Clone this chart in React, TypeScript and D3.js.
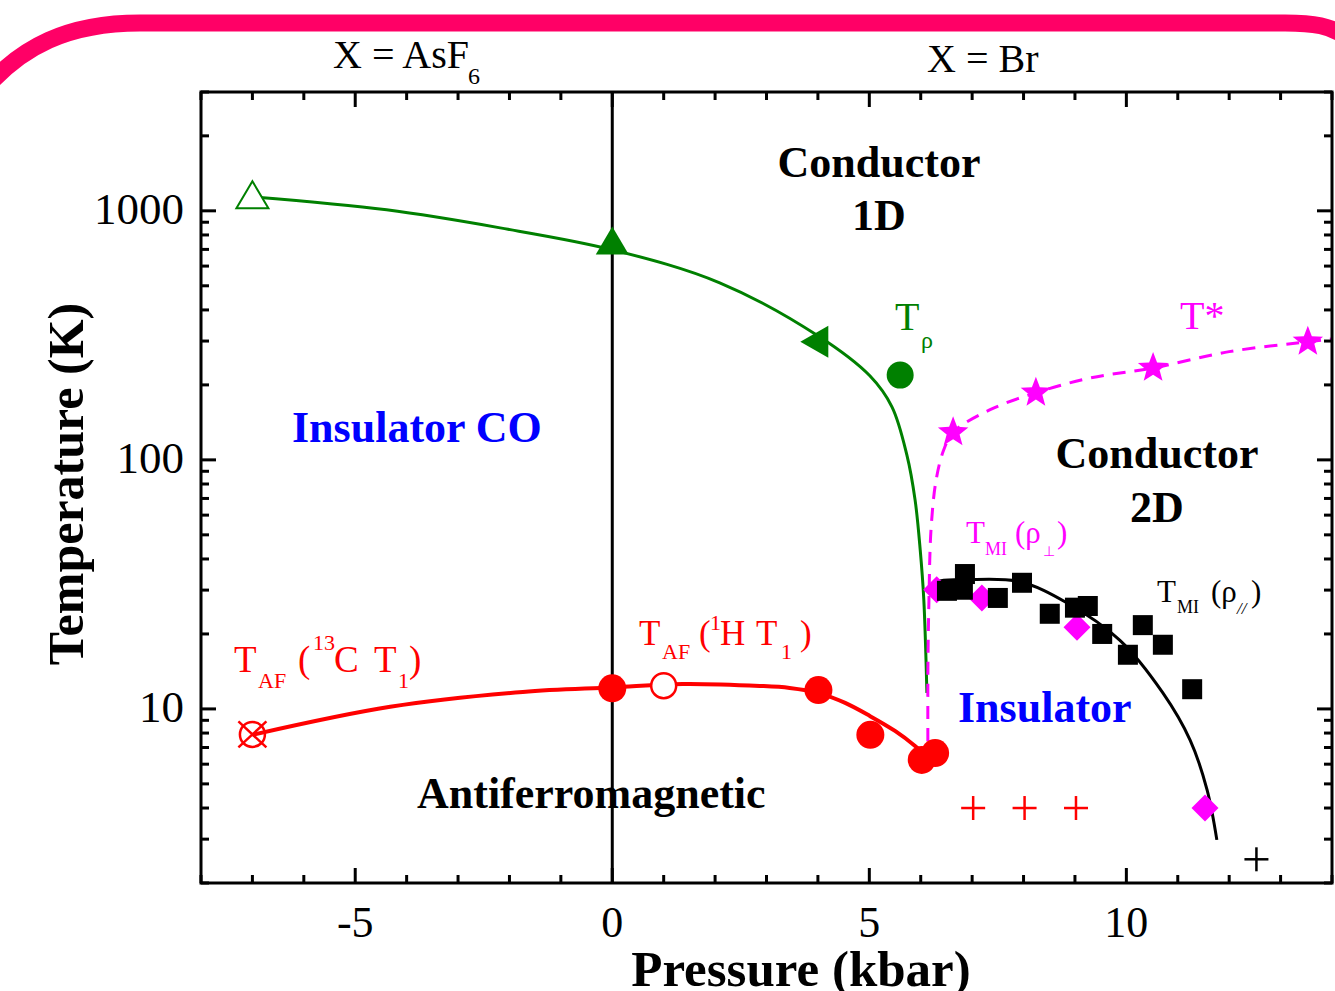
import React from 'react';
import * as d3 from 'd3';

// ---------- axes ----------
const xDomain: [number, number] = [-8, 14];
const yDomain: [number, number] = [2, 3000];
const xMajorTicks = [-5, 0, 5, 10];
const xTickLabels = ['-5', '0', '5', '10'];
const yMajorTicks = [10, 100, 1000];
const yTickLabels = ['10', '100', '1000'];
const xTitle = 'Pressure (kbar)';
const yTitle = 'Temperature (K)';

// ---------- curves ----------
const greenCurveP = [-7, -4.39, -2.18, 0.01, 2.09, 4.0, 5.01, 5.44, 5.73, 5.89, 5.99, 6.06, 6.12];
const greenCurveT = [1138, 1009, 854, 697, 514, 315, 217.5, 163.3, 104.7, 69.1, 43.5, 27.4, 11.6];

const redCurveP = [-7, -4.32, -1.74, 0, 1.37, 2.87, 3.45, 4.0, 4.53, 5.01, 5.5, 5.89, 6.14];
const redCurveT = [7.87, 10.2, 11.7, 12.2, 12.6, 12.37, 12.14, 11.6, 10.57, 9.37, 8.16, 7.1, 6.36];

const blackCurveP = [6.18, 6.33, 6.9, 7.93, 8.84, 9.87, 10.71, 11.24, 11.57, 11.76];
const blackCurveT = [29.5, 32.4, 33.0, 32.4, 26.7, 18.9, 11.6, 7.5, 4.73, 2.98];

const magentaCurveP = [6.14, 6.14, 6.16, 6.2, 6.3, 6.45, 6.63, 7.35, 8.24, 9.29, 10.52, 12.0, 13.53, 14];
const magentaCurveT = [6.07, 15, 27.4, 52.4, 83.2, 110, 129, 159, 186, 213, 234, 272, 298, 306];

// ---------- markers ----------
const greenOpenTriP = [-7];
const greenOpenTriT = [1160];
const greenUpTriP = [0];
const greenUpTriT = [760];
const greenLeftTriP = [3.93];
const greenLeftTriT = [298];
const greenCircleP = [5.6];
const greenCircleT = [219];

const redCrossCircleP = [-7];
const redCrossCircleT = [7.9];
const redFilledP = [0, 4.01, 5.02, 6.02, 6.28];
const redFilledT = [12.1, 11.9, 7.87, 6.24, 6.65];
const redOpenP = [1.0];
const redOpenT = [12.4];
const redPlusP = [7.02, 8.02, 9.02];
const redPlusT = [4.0, 4.0, 4.0];

const starP = [6.63, 8.24, 10.52, 13.53];
const starT = [129, 186, 234, 298];

const diamondP = [6.31, 7.19, 9.04, 11.53];
const diamondT = [30.1, 27.9, 21.3, 4.0];

const squareP = [6.51, 6.82, 6.86, 7.5, 7.97, 8.51, 9.0, 9.25, 9.53, 10.03, 10.32, 10.71, 11.28];
const squareT = [29.8, 30.1, 34.8, 27.9, 32.1, 24.1, 25.5, 25.9, 20.0, 16.5, 21.7, 18.1, 12.0];

const blackPlusP = [12.53];
const blackPlusT = [2.49];

const SERIF = "'Liberation Serif', 'Times New Roman', Times, serif";
const GREEN = '#008000';
const RED = '#ff0000';
const MAGENTA = '#ff00ff';
const BLUE = '#0000ff';

const W = 1335;
const H = 991;
const L = 201, R = 1332, T = 92, B = 883;

function starPath(cx: number, cy: number, ro: number, ri: number) {
  const pts: string[] = [];
  for (let i = 0; i < 10; i++) {
    const r = i % 2 === 0 ? ro : ri;
    const a = -Math.PI / 2 + (i * Math.PI) / 5;
    pts.push(`${cx + r * Math.cos(a)},${cy + r * Math.sin(a)}`);
  }
  return 'M' + pts.join('L') + 'Z';
}

export default function App() {
  const x = d3.scaleLinear().domain(xDomain).range([L, R]);
  const y = d3.scaleLog().domain(yDomain).range([B, T]);

  const line = d3
    .line<[number, number]>()
    .x((d) => x(d[0]))
    .y((d) => y(d[1]))
    .curve(d3.curveCatmullRom.alpha(0.5));

  const zip = (a: number[], b: number[]) => a.map((v, i) => [v, b[i]] as [number, number]);

  const xMinor = d3.range(-8, 15, 1).filter((v) => !xMajorTicks.includes(v));
  const yMinor = y.ticks().filter((v) => !yMajorTicks.includes(v));

  const tickW = 3;
  const majLen = 15;
  const minLen = 8;

  return (
    <div style={{ position: 'fixed', left: 0, top: 0, width: W, height: H, background: '#fff' }}>
      <svg width={W} height={H} style={{ display: 'block' }} fontFamily={SERIF}>
        <rect x={0} y={0} width={W} height={H} fill="#fff" />
        {/* decorative band */}
        <path
          d="M -20 95 C 20 45, 70 23, 140 23 L 1285 23 C 1315 23, 1330 26, 1345 36"
          fill="none"
          stroke="#ff0066"
          strokeWidth={17}
        />

        {/* header labels */}
        <text x={333} y={68} fontSize={40}>X = AsF</text>
        <text x={468} y={84} fontSize={24}>6</text>
        <text x={927} y={72} fontSize={40}>X = Br</text>

        {/* x = 0 vertical line */}
        <line x1={x(0)} x2={x(0)} y1={T} y2={B} stroke="#000" strokeWidth={3} />

        {/* curves */}
        <path d={line(zip(greenCurveP, greenCurveT)) || ''} fill="none" stroke={GREEN} strokeWidth={3} />
        <path d={line(zip(redCurveP, redCurveT)) || ''} fill="none" stroke={RED} strokeWidth={4} />
        <path d={line(zip(blackCurveP, blackCurveT)) || ''} fill="none" stroke="#000" strokeWidth={3} />
        <path
          d={line(zip(magentaCurveP, magentaCurveT)) || ''}
          fill="none"
          stroke={MAGENTA}
          strokeWidth={3}
          strokeDasharray="13,9"
        />

        {/* green markers */}
        {zip(greenOpenTriP, greenOpenTriT).map(([p, t], i) => {
          const cx = x(p), cy = y(t);
          return (
            <path key={'got' + i} d={`M${cx},${cy - 13.5}L${cx + 16},${cy + 13.5}L${cx - 16},${cy + 13.5}Z`}
              fill="#fff" stroke={GREEN} strokeWidth={2} />
          );
        })}
        {zip(greenUpTriP, greenUpTriT).map(([p, t], i) => {
          const cx = x(p), cy = y(t);
          return (
            <path key={'gut' + i} d={`M${cx},${cy - 14}L${cx + 16.5},${cy + 14}L${cx - 16.5},${cy + 14}Z`} fill={GREEN} />
          );
        })}
        {zip(greenLeftTriP, greenLeftTriT).map(([p, t], i) => {
          const cx = x(p), cy = y(t);
          return (
            <path key={'glt' + i} d={`M${cx - 14},${cy}L${cx + 14},${cy - 16}L${cx + 14},${cy + 16}Z`} fill={GREEN} />
          );
        })}
        {zip(greenCircleP, greenCircleT).map(([p, t], i) => (
          <circle key={'gc' + i} cx={x(p)} cy={y(t)} r={13.5} fill={GREEN} />
        ))}

        {/* red markers */}
        {zip(redCrossCircleP, redCrossCircleT).map(([p, t], i) => {
          const cx = x(p), cy = y(t);
          return (
            <g key={'rcc' + i} stroke={RED} strokeWidth={2.5} fill="none">
              <circle cx={cx} cy={cy} r={12.5} />
              <line x1={cx - 14} y1={cy - 13} x2={cx + 14} y2={cy + 13} />
              <line x1={cx - 14} y1={cy + 13} x2={cx + 14} y2={cy - 13} />
            </g>
          );
        })}
        {zip(redOpenP, redOpenT).map(([p, t], i) => (
          <circle key={'ro' + i} cx={x(p)} cy={y(t)} r={12.5} fill="#fff" stroke={RED} strokeWidth={2.5} />
        ))}
        {zip(redFilledP, redFilledT).map(([p, t], i) => (
          <circle key={'rf' + i} cx={x(p)} cy={y(t)} r={14} fill={RED} />
        ))}
        {zip(redPlusP, redPlusT).map(([p, t], i) => {
          const cx = x(p), cy = y(t);
          return (
            <g key={'rp' + i} stroke={RED} strokeWidth={2.5}>
              <line x1={cx - 12} x2={cx + 12} y1={cy} y2={cy} />
              <line x1={cx} x2={cx} y1={cy - 12} y2={cy + 12} />
            </g>
          );
        })}

        {/* magenta markers */}
        {zip(starP, starT).map(([p, t], i) => (
          <path key={'st' + i} d={starPath(x(p), y(t), 16, 6.8)} fill={MAGENTA} />
        ))}
        {zip(diamondP, diamondT).map(([p, t], i) => {
          const cx = x(p), cy = y(t);
          return (
            <path key={'dm' + i} d={`M${cx},${cy - 13.5}L${cx + 13.5},${cy}L${cx},${cy + 13.5}L${cx - 13.5},${cy}Z`} fill={MAGENTA} />
          );
        })}

        {/* black markers */}
        {zip(squareP, squareT).map(([p, t], i) => (
          <rect key={'sq' + i} x={x(p) - 10} y={y(t) - 10} width={20} height={20} fill="#000" />
        ))}
        {zip(blackPlusP, blackPlusT).map(([p, t], i) => {
          const cx = x(p), cy = y(t);
          return (
            <g key={'bp' + i} stroke="#000" strokeWidth={2.5}>
              <line x1={cx - 12} x2={cx + 12} y1={cy} y2={cy} />
              <line x1={cx} x2={cx} y1={cy - 12} y2={cy + 12} />
            </g>
          );
        })}

        {/* region labels */}
        <g fontWeight="bold" fontSize={44}>
          <text x={879} y={177} textAnchor="middle">Conductor</text>
          <text x={879} y={230} textAnchor="middle">1D</text>
          <text x={1157} y={468} textAnchor="middle">Conductor</text>
          <text x={1157} y={522} textAnchor="middle">2D</text>
          <text x={292} y={442} fill={BLUE}>Insulator CO</text>
          <text x={958} y={722} fill={BLUE}>Insulator</text>
          <text x={417} y={808}>Antiferromagnetic</text>
        </g>

        {/* series labels */}
        <g fill={GREEN}>
          <text x={895} y={330} fontSize={40}>T</text>
          <text x={921} y={348} fontSize={24}>ρ</text>
        </g>
        <text x={1180} y={329} fontSize={40} fill={MAGENTA}>T*</text>

        <g fill={MAGENTA}>
          <text x={966} y={543} fontSize={31}>T</text>
          <text x={985} y={555} fontSize={18}>MI</text>
          <text x={1015} y={543} fontSize={31}>(ρ</text>
          <text x={1043} y={556} fontSize={14}>⊥</text>
          <text x={1057} y={543} fontSize={31}>)</text>
        </g>
        <g fill="#000">
          <text x={1157} y={602} fontSize={31}>T</text>
          <text x={1177} y={613} fontSize={18}>MI</text>
          <text x={1211} y={602} fontSize={31}>(ρ</text>
          <text x={1237} y={614} fontSize={17} fontStyle="italic">//</text>
          <text x={1251} y={602} fontSize={31}>)</text>
        </g>

        <g fill={RED}>
          <text x={234} y={672} fontSize={37}>T</text>
          <text x={258} y={688} fontSize={22}>AF</text>
          <text x={298} y={672} fontSize={37}>(</text>
          <text x={313} y={650} fontSize={22}>13</text>
          <text x={334} y={672} fontSize={37}>C</text>
          <text x={374} y={672} fontSize={37}>T</text>
          <text x={398} y={688} fontSize={22}>1</text>
          <text x={409} y={672} fontSize={37}>)</text>

          <text x={639} y={645} fontSize={35}>T</text>
          <text x={662} y={659} fontSize={22}>AF</text>
          <text x={699} y={645} fontSize={35}>(</text>
          <text x={710} y={630} fontSize={22}>1</text>
          <text x={720} y={645} fontSize={35}>H</text>
          <text x={756} y={645} fontSize={35}>T</text>
          <text x={781} y={659} fontSize={22}>1</text>
          <text x={800} y={645} fontSize={35}>)</text>
        </g>

        {/* ticks */}
        <g stroke="#000" strokeWidth={tickW}>
          {xMajorTicks.map((v) => (
            <g key={'xM' + v}>
              <line x1={x(v)} x2={x(v)} y1={B} y2={B - majLen} />
              <line x1={x(v)} x2={x(v)} y1={T} y2={T + majLen} />
            </g>
          ))}
          {xMinor.map((v) => (
            <g key={'xm' + v}>
              <line x1={x(v)} x2={x(v)} y1={B} y2={B - minLen} />
              <line x1={x(v)} x2={x(v)} y1={T} y2={T + minLen} />
            </g>
          ))}
          {yMajorTicks.map((v) => (
            <g key={'yM' + v}>
              <line x1={L} x2={L + majLen} y1={y(v)} y2={y(v)} />
              <line x1={R} x2={R - majLen} y1={y(v)} y2={y(v)} />
            </g>
          ))}
          {yMinor.map((v) => (
            <g key={'ym' + v}>
              <line x1={L} x2={L + minLen} y1={y(v)} y2={y(v)} />
              <line x1={R} x2={R - minLen} y1={y(v)} y2={y(v)} />
            </g>
          ))}
        </g>
        <rect x={L} y={T} width={R - L} height={B - T} fill="none" stroke="#000" strokeWidth={3} />

        {/* tick labels */}
        {xMajorTicks.map((v, i) => (
          <text key={'xl' + v} x={x(v)} y={937} fontSize={44} textAnchor="middle">{xTickLabels[i]}</text>
        ))}
        {yMajorTicks.map((v, i) => (
          <text key={'yl' + v} x={184} y={y(v) + 13} fontSize={45} textAnchor="end">{yTickLabels[i]}</text>
        ))}

        {/* axis titles */}
        <text x={801} y={986} fontSize={51} fontWeight="bold" textAnchor="middle">{xTitle}</text>
        <text transform={`translate(83,484) rotate(-90)`} fontSize={50} fontWeight="bold" textAnchor="middle">{yTitle}</text>
      </svg>
    </div>
  );
}
